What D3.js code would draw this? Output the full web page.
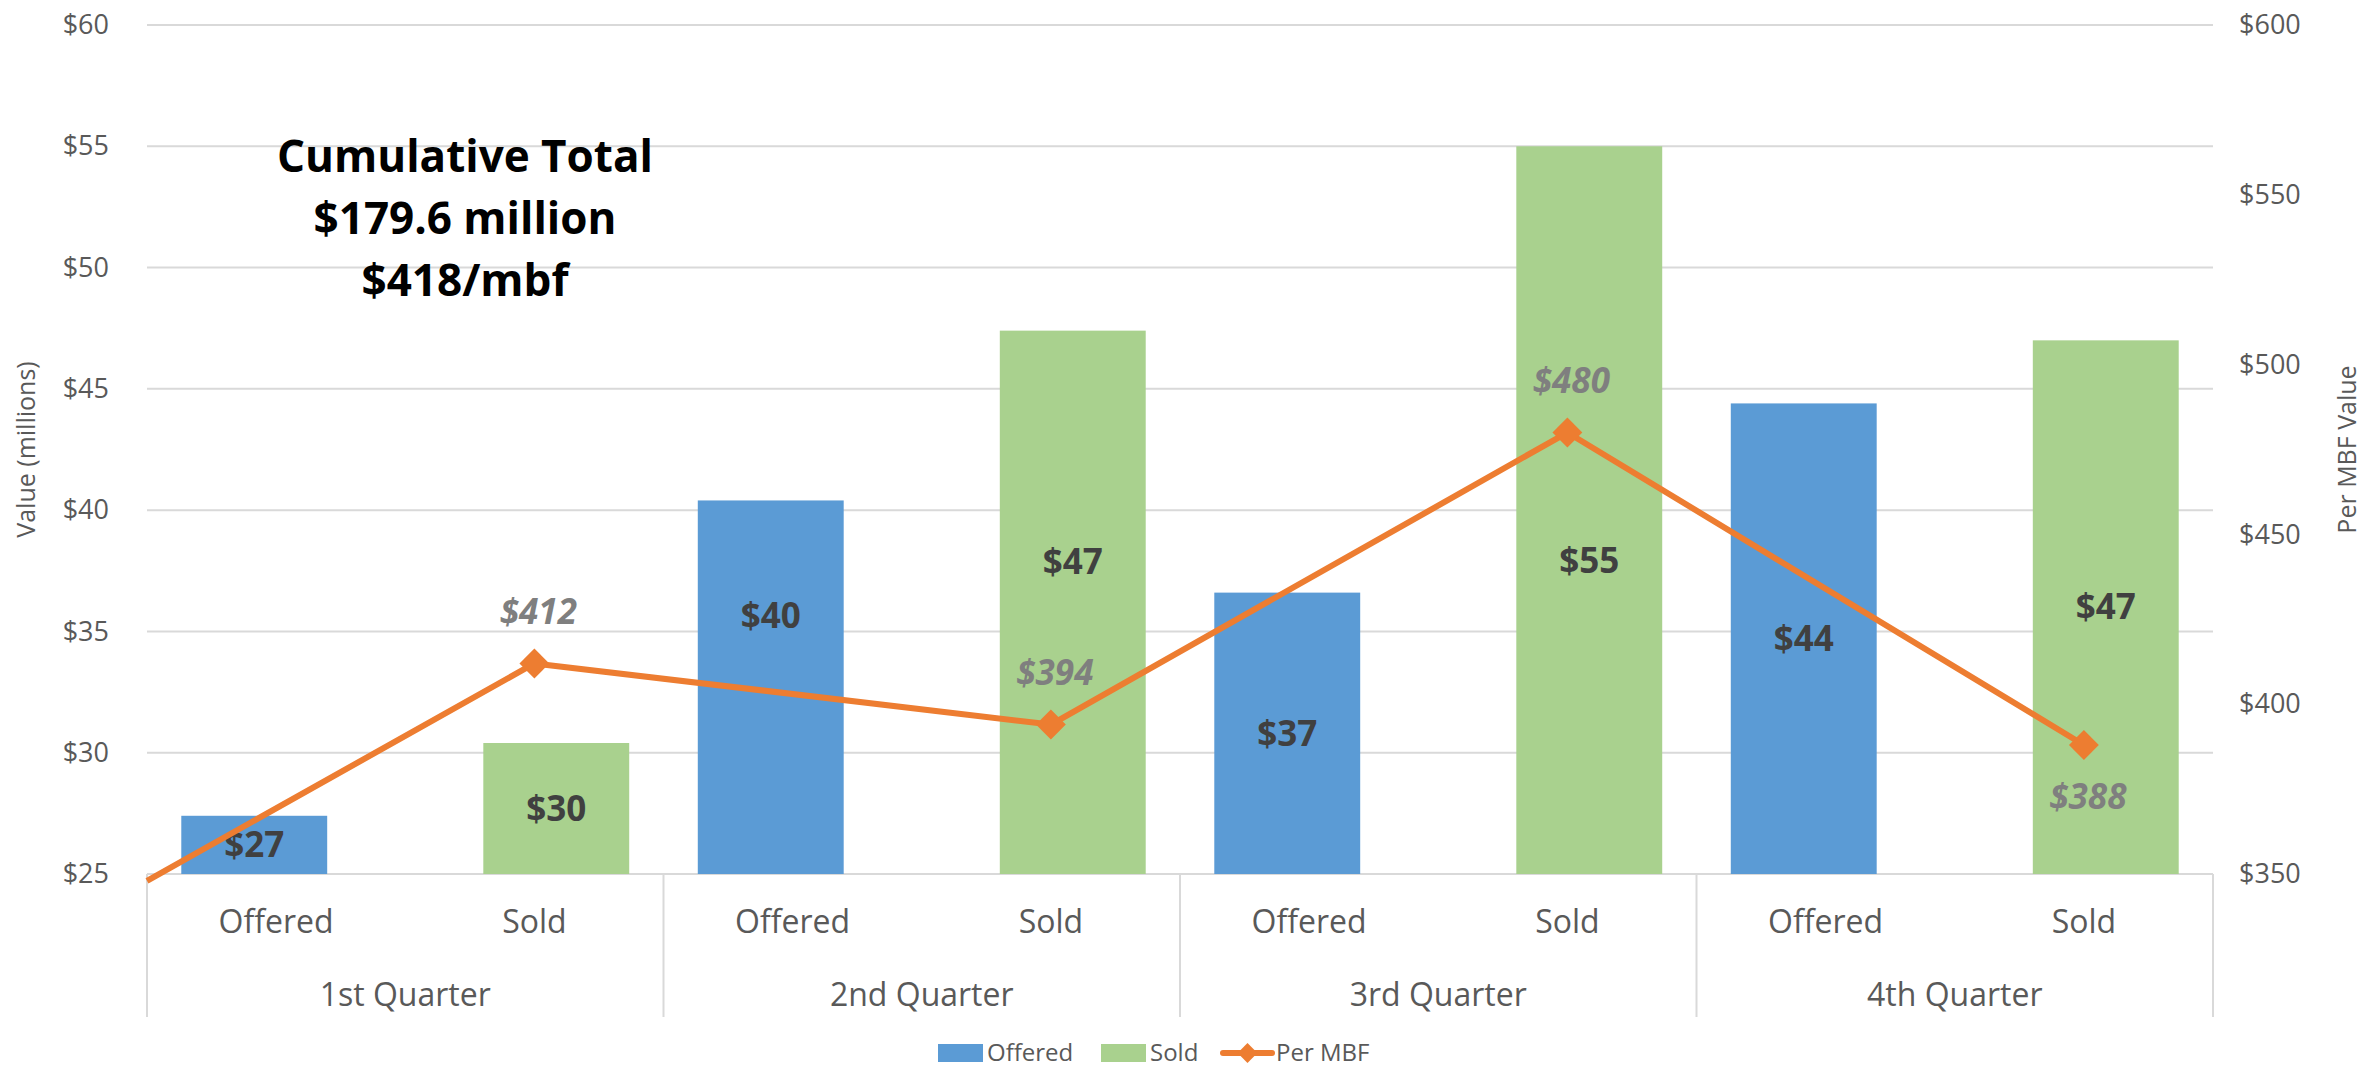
<!DOCTYPE html>
<html>
<head>
<meta charset="utf-8">
<script src="https://cdn.jsdelivr.net/npm/d3@7"></script>
<style>
  body { margin: 0; background: #fff; }
  text { font-family: "Open Sans", sans-serif; }
</style>
</head>
<body>
<div id="container"></div>
<script>
/* data */
var quarters = ['1st Quarter', '2nd Quarter', '3rd Quarter', '4th Quarter'],
    kinds = ['Offered', 'Sold'],
    offered = [27.4, 40.4, 36.6, 44.4],
    sold = [30.4, 47.4, 55.0, 47.0],
    perMbf = [412, 394, 480, 388],
    perMbfStart = 348,          // line enters at the left edge of the plot
    leftTicks = [25, 30, 35, 40, 45, 50, 55, 60],
    rightTicks = [350, 400, 450, 500, 550, 600],
    noteLines = ['Cumulative Total', '$179.6 million', '$418/mbf'];

/* a few label positions were dragged by hand in the original */
var offeredNudge = [0, -71, 0, 0],
    soldNudge = [0, -41, 51, 0],
    mbfLabelSide = [-1, -1, -1, 1];

var W = 2364, H = 1071,
    margin = {top: 25, right: 151, bottom: 197, left: 147},
    plotW = W - margin.left - margin.right,
    plotH = H - margin.top - margin.bottom;

var blue = '#5B9BD5', green = '#A9D18E', orange = '#ED7D31',
    axisGrey = '#595959', gridGrey = '#d9d9d9';

var svg = d3.select('#container').append('svg')
    .attr('width', W)
    .attr('height', H);

var plot = svg.append('g')
    .attr('transform', `translate(${margin.left},${margin.top})`);

/* scales */
var x0 = d3.scaleBand().domain(quarters).range([0, plotW]).padding(0);
var x1 = d3.scaleBand().domain(kinds).range([0, x0.bandwidth()]).padding(0);
var yL = d3.scaleLinear().domain([25, 60]).range([plotH, 0]);
var yR = d3.scaleLinear().domain([350, 600]).range([plotH, 0]);

// excel style clustered bars: gap width 47%, overlap 70%
var gapWidth = 0.47, overlap = 0.7;
var barW = x1.bandwidth() / (2 - overlap + gapWidth);
var barShift = [-0.5 * barW * (1 - overlap), 0.5 * barW * (1 - overlap)];

function slotCenter(q, k) {
    return x0(q) + x1(k) + x1.bandwidth() / 2;
}

/* gridlines */
plot.append('g').selectAll('line').data(leftTicks.slice(1)).enter().append('line')
    .attr('x1', 0).attr('x2', plotW)
    .attr('y1', d => yL(d)).attr('y2', d => yL(d))
    .attr('stroke', gridGrey).attr('stroke-width', 2);

/* category axis (two levels) */
var catAxis = plot.append('g');
catAxis.append('line')
    .attr('x1', 0).attr('x2', plotW)
    .attr('y1', plotH).attr('y2', plotH)
    .attr('stroke', gridGrey).attr('stroke-width', 2);
var seps = quarters.map(q => x0(q)).concat([plotW]);
catAxis.selectAll('.sep').data(seps).enter().append('line')
    .classed('sep', true)
    .attr('x1', d => d).attr('x2', d => d)
    .attr('y1', plotH).attr('y2', plotH + 143)
    .attr('stroke', gridGrey).attr('stroke-width', 2);

var slots = [];
quarters.forEach(q => kinds.forEach(k => slots.push({q: q, k: k})));
catAxis.selectAll('.kind').data(slots).enter().append('text')
    .classed('kind', true)
    .attr('x', d => slotCenter(d.q, d.k))
    .attr('y', plotH + 48)
    .attr('dy', '0.35em')
    .attr('text-anchor', 'middle')
    .attr('font-size', 32).attr('fill', axisGrey)
    .text(d => d.k);
catAxis.selectAll('.quarter').data(quarters).enter().append('text')
    .classed('quarter', true)
    .attr('x', d => x0(d) + x0.bandwidth() / 2)
    .attr('y', plotH + 121)
    .attr('dy', '0.35em')
    .attr('text-anchor', 'middle')
    .attr('font-size', 32).attr('fill', axisGrey)
    .text(d => d);

/* value axes */
var leftAxis = d3.axisLeft(yL).tickValues(leftTicks).tickSize(0).tickPadding(38).tickFormat(d => '$' + d);
plot.append('g').call(leftAxis)
    .call(g => g.select('.domain').remove())
    .selectAll('text')
        .attr('font-size', 27).attr('fill', axisGrey).attr('font-family', 'Open Sans');

var rightAxis = d3.axisRight(yR).tickValues(rightTicks).tickSize(0).tickPadding(26).tickFormat(d => '$' + d);
plot.append('g').attr('transform', `translate(${plotW},0)`).call(rightAxis)
    .call(g => g.select('.domain').remove())
    .selectAll('text')
        .attr('font-size', 27).attr('fill', axisGrey).attr('font-family', 'Open Sans');

svg.append('text')
    .attr('transform', `translate(26,${margin.top + plotH / 2}) rotate(-90)`)
    .attr('text-anchor', 'middle').attr('dy', '0.35em')
    .attr('font-size', 25).attr('fill', axisGrey)
    .text('Value (millions)');
svg.append('text')
    .attr('transform', `translate(2347,${margin.top + plotH / 2}) rotate(-90)`)
    .attr('text-anchor', 'middle').attr('dy', '0.35em')
    .attr('font-size', 25).attr('fill', axisGrey)
    .text('Per MBF Value');

/* bars */
var barData = [];
quarters.forEach((q, i) => {
    barData.push({q: q, k: 'Offered', v: offered[i], color: blue, shift: barShift[0], nudge: offeredNudge[i]});
    barData.push({q: q, k: 'Sold', v: sold[i], color: green, shift: barShift[1], nudge: soldNudge[i]});
});

plot.append('g').selectAll('rect').data(barData).enter().append('rect')
    .attr('x', d => slotCenter(d.q, d.k) + d.shift - barW / 2)
    .attr('y', d => yL(d.v))
    .attr('width', barW)
    .attr('height', d => yL(25) - yL(d.v))
    .attr('fill', d => d.color);

plot.append('g').selectAll('text').data(barData).enter().append('text')
    .attr('x', d => slotCenter(d.q, d.k) + d.shift)
    .attr('y', d => (yL(d.v) + yL(25)) / 2 + d.nudge)
    .attr('dy', '0.35em')
    .attr('text-anchor', 'middle')
    .attr('font-size', 35).attr('font-weight', 'bold').attr('fill', '#404040')
    .text(d => '$' + Math.round(d.v));

/* per MBF line */
var linePts = [{x: 0, y: yR(perMbfStart)}].concat(
    quarters.map((q, i) => ({x: slotCenter(q, 'Sold'), y: yR(perMbf[i]), v: perMbf[i], side: mbfLabelSide[i]})));

var lines = d3.line().x(d => d.x).y(d => d.y);
plot.append('path')
    .datum(linePts)
    .attr('d', lines)
    .attr('fill', 'none')
    .attr('stroke', orange)
    .attr('stroke-width', 6)
    .attr('stroke-linejoin', 'round');

var marks = linePts.slice(1);
plot.append('g').selectAll('path').data(marks).enter().append('path')
    .attr('d', d3.symbol().type(d3.symbolDiamond2).size(570))
    .attr('transform', d => `translate(${d.x},${d.y})`)
    .attr('fill', orange);

plot.append('g').selectAll('text').data(marks).enter().append('text')
    .attr('x', d => d.x + 4)
    .attr('y', d => d.y + d.side * 52)
    .attr('dy', '0.35em')
    .attr('text-anchor', 'middle')
    .attr('font-size', 35).attr('font-weight', 'bold').attr('font-style', 'italic')
    .attr('fill', '#7f7f7f')
    .text(d => '$' + d.v);

/* cumulative note */
svg.append('g').selectAll('text').data(noteLines).enter().append('text')
    .attr('x', 465)
    .attr('y', (d, i) => 157 + i * 62)
    .attr('dy', '0.35em')
    .attr('text-anchor', 'middle')
    .attr('font-family', 'Lato').attr('font-size', 44).attr('font-weight', 'bold')
    .attr('fill', '#000')
    .text(d => d);

/* legend */
var legend = svg.append('g').attr('transform', 'translate(0,1053)');
var legendItems = [
    {label: 'Offered', type: 'rect', color: blue, x: 938},
    {label: 'Sold', type: 'rect', color: green, x: 1101},
    {label: 'Per MBF', type: 'line', color: orange, x: 1223}
];
legendItems.forEach(it => {
    if (it.type === 'rect') {
        legend.append('rect').attr('x', it.x).attr('y', -9).attr('width', 45).attr('height', 18).attr('fill', it.color);
        legend.append('text').attr('x', it.x + 49).attr('dy', '0.35em')
            .attr('font-size', 24).attr('fill', axisGrey).text(it.label);
    } else {
        legend.append('line').attr('x1', it.x).attr('x2', it.x + 49).attr('y1', 0).attr('y2', 0)
            .attr('stroke', it.color).attr('stroke-width', 6).attr('stroke-linecap', 'round');
        legend.append('path')
            .attr('d', d3.symbol().type(d3.symbolDiamond2).size(250))
            .attr('transform', `translate(${it.x + 24.5},0)`)
            .attr('fill', it.color);
        legend.append('text').attr('x', it.x + 53).attr('dy', '0.35em')
            .attr('font-size', 24).attr('fill', axisGrey).text(it.label);
    }
});
</script>
</body>
</html>
